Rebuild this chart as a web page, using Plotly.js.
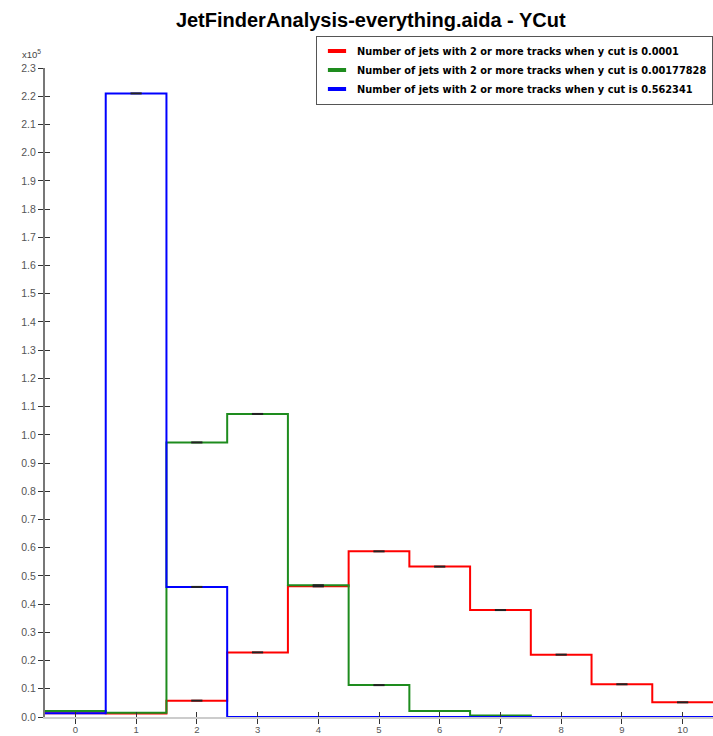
<!DOCTYPE html>
<html>
<head>
<meta charset="utf-8">
<script src="https://cdn.plot.ly/plotly-3.0.1.min.js"></script>
<style>
  html, body { margin: 0; padding: 0; background: #fff; }
  #ycut_graph { width: 713px; height: 736px; }
</style>
</head>
<body>
<div id="ycut_graph"></div>
<script>
/* YCut histograms, values read in units of 1e5 entries */

var bins = [0, 1, 2, 3, 4, 5, 6, 7, 8, 9, 10];

var red_vals   = [0.013, 0.012, 0.058, 0.229, 0.463, 0.587, 0.533, 0.379, 0.221, 0.116, 0.052];
var green_vals = [0.021, 0.015, 0.973, 1.074, 0.467, 0.113, 0.021, 0.005, 0, 0, 0];
var blue_vals  = [0.013, 2.210, 0.461, 0, 0, 0, 0, 0, 0, 0, 0];

var names = [
    'Number of jets with 2 or more tracks when y cut is 0.0001',
    'Number of jets with 2 or more tracks when y cut is 0.00177828',
    'Number of jets with 2 or more tracks when y cut is 0.562341'
];
var colors = ['#ff0000', '#1e8c1e', '#0000ff'];

var y_ticks = [];
for (var t = 0; t <= 23; t++) { y_ticks.push(t / 10); }

// histogram outline from bin edges
function step_trace(vals, color) {
    var xs = [], ys = [];
    for (var i = 0; i < bins.length; i++) {
        xs.push(bins[i] - 0.5);
        ys.push(vals[i]);
    }
    xs.push(bins[bins.length - 1] + 0.5);
    ys.push(vals[vals.length - 1]);
    return {
        x: xs, y: ys, type: 'scatter', mode: 'lines',
        line: {shape: 'hv', color: color, width: 2},
        showlegend: false, hoverinfo: 'skip'
    };
}

// small black dashes at bin centres
function err_trace(vals) {
    var xs = [], ys = [];
    for (var i = 0; i < bins.length; i++) {
        if (vals[i] > 0.03) { xs.push(bins[i]); ys.push(vals[i]); }
    }
    return {
        x: xs, y: ys, type: 'scatter', mode: 'markers',
        marker: {symbol: 'line-ew', size: 8, color: '#000', line: {color: '#222', width: 2}},
        showlegend: false, hoverinfo: 'skip'
    };
}

// legend only entries with a short thick swatch
function legend_trace(name, color) {
    return {
        x: [null], y: [null], type: 'scatter', mode: 'markers',
        marker: {symbol: 'line-ew', size: 13, color: color, line: {color: color, width: 4}},
        name: '<b>' + name + '</b>', showlegend: true
    };
}

var series = [red_vals, green_vals, blue_vals];
var data = [];
for (var s = 0; s < series.length; s++) {
    data.push(step_trace(series[s], colors[s]));
}
for (var s = 0; s < series.length; s++) {
    data.push(err_trace(series[s]));
}
for (var s = 0; s < series.length; s++) {
    data.push(legend_trace(names[s], colors[s]));
}

var tick_font = {family: 'Liberation Sans, Arial, sans-serif', size: 10.5, color: '#555'};
var xtick_font = {family: 'Liberation Sans, Arial, sans-serif', size: 9.5, color: '#555'};

var layout = {
    width: 713, height: 736,
    margin: {l: 45, r: 0, t: 68, b: 19},
    paper_bgcolor: '#fff', plot_bgcolor: '#fff',
    title: {
        text: '<b>JetFinderAnalysis-everything.aida - YCut</b>',
        font: {family: 'Liberation Sans, Arial, sans-serif', size: 20, color: '#000'},
        x: 0.52, xanchor: 'center', y: 0.973, yanchor: 'middle'
    },
    xaxis: {
        range: [-0.5, 10.5], tickvals: bins, ticktext: bins.map(String),
        ticks: 'outside', ticklen: 5, tickcolor: '#333', tickwidth: 1,
        ticklabelstandoff: -2,
        showgrid: false, zeroline: false,
        showline: true, linecolor: '#cccccc', linewidth: 2,
        tickfont: xtick_font, fixedrange: true
    },
    xaxis2: {
        range: [-0.5, 10.5], tickvals: bins, overlaying: 'x', anchor: 'y',
        ticks: 'inside', ticklen: 5, tickcolor: '#333', tickwidth: 1,
        showticklabels: false, showgrid: false, zeroline: false, showline: false
    },
    yaxis: {
        range: [0, 2.3], tickvals: y_ticks, tickformat: '.1f',
        ticks: 'outside', ticklen: 5, tickcolor: '#333', tickwidth: 1,
        showgrid: false, zeroline: false,
        showline: true, linecolor: '#777', linewidth: 2,
        tickfont: tick_font, fixedrange: true
    },
    yaxis2: {
        range: [0, 2.3], tickvals: y_ticks, overlaying: 'y', anchor: 'x',
        ticks: 'inside', ticklen: 5, tickcolor: '#333', tickwidth: 1,
        showticklabels: false, showgrid: false, zeroline: false, showline: false
    },
    legend: {
        x: 1, xanchor: 'right', y: 1.05, yanchor: 'top',
        bgcolor: '#fff', bordercolor: '#555', borderwidth: 1,
        font: {family: 'DejaVu Sans, Verdana, sans-serif', size: 9.8, color: '#000'},
        itemwidth: 30, tracegroupgap: 0
    },
    annotations: [{
        text: 'x10<sup>5</sup>', xref: 'paper', yref: 'paper',
        x: -0.02, y: 1.01, xanchor: 'center', yanchor: 'bottom',
        showarrow: false, font: {family: 'Liberation Sans, Arial, sans-serif', size: 9.5, color: '#444'}
    }]
};

// dummy trace on the overlay axes so their ticks are drawn
data.push({x: [null], y: [null], xaxis: 'x2', yaxis: 'y2', type: 'scatter', showlegend: false, hoverinfo: 'skip'});

Plotly.newPlot('ycut_graph', data, layout, {displayModeBar: false, staticPlot: true});
</script>
</body>
</html>
